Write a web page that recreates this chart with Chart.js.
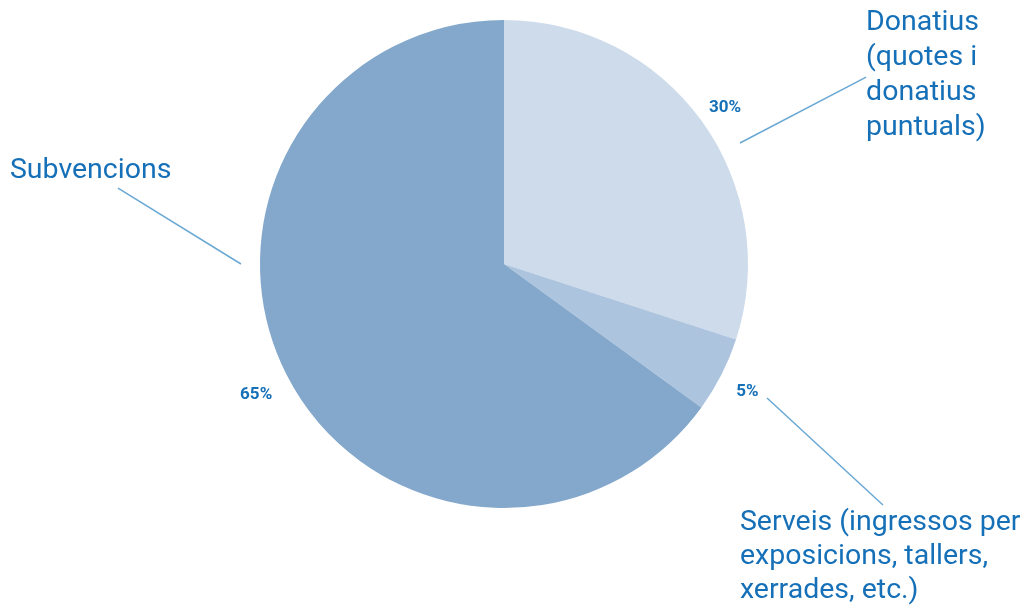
<!DOCTYPE html>
<html>
<head>
<meta charset="utf-8">
<script src="https://cdn.jsdelivr.net/npm/chart.js@4/dist/chart.umd.min.js"></script>
<style>
  html, body { margin: 0; padding: 0; background: #fff; }
  #wrap { width: 1029px; height: 605px; position: relative; }
</style>
</head>
<body>
<div id="wrap"><canvas id="pie"></canvas></div>
<script>
// Chart data
const categories = [
  ['Donatius', '(quotes i', 'donatius', 'puntuals)'],
  ['Serveis (ingressos per', 'exposicions, tallers,', 'xerrades, etc.)'],
  ['Subvencions']
];
const shares = [30, 5, 65];
const sliceColors = ['#cddbea', '#adc4df', '#84a8cc'];

// Label layout, in units of the pie radius, relative to the centre
const callouts = [
  { pct: 1.12, line: [[0.967, -0.496], [1.484, -0.766]], text: [1.484, -0.988], lh: 35 },
  { pct: 1.12, line: [[1.078, 0.549], [1.553, 0.988]], text: [0.967, 1.061], lh: 34 },
  { pct: 1.14, line: [[-1.078, 0], [-1.582, -0.311]], text: [-2.025, -0.381], lh: 34 }
];

const textBlue = '#1570b8';

// Draws percentages, leader lines and category names around the pie
const calloutPlugin = {
  id: 'callouts',
  afterDatasetsDraw(chart) {
    const ctx = chart.ctx;
    const arcs = chart.getDatasetMeta(0).data;
    arcs.forEach((arc, i) => {
      const c = callouts[i];
      const r = arc.outerRadius;
      const cx = arc.x, cy = arc.y;
      const mid = (arc.startAngle + arc.endAngle) / 2;
      ctx.save();
      // percentage
      ctx.fillStyle = textBlue;
      ctx.font = 'bold 17px Roboto';
      ctx.textAlign = 'center';
      ctx.textBaseline = 'middle';
      ctx.fillText(shares[i] + '%', cx + Math.cos(mid) * r * c.pct, cy + Math.sin(mid) * r * c.pct + 4);
      // leader line
      ctx.strokeStyle = '#6aa8d4';
      ctx.lineWidth = 1.5;
      ctx.beginPath();
      ctx.moveTo(cx + c.line[0][0] * r, cy + c.line[0][1] * r);
      ctx.lineTo(cx + c.line[1][0] * r, cy + c.line[1][1] * r);
      ctx.stroke();
      // category name
      ctx.font = '28.5px Roboto';
      ctx.textAlign = 'left';
      ctx.textBaseline = 'middle';
      categories[i].forEach((line, k) => {
        ctx.fillText(line, cx + c.text[0] * r, cy + c.text[1] * r + k * c.lh);
      });
      ctx.restore();
    });
  }
};

new Chart(document.getElementById('pie'), {
  type: 'pie',
  data: {
    labels: categories.map(l => l.join(' ')),
    datasets: [{
      data: shares,
      backgroundColor: sliceColors,
      borderWidth: 0
    }]
  },
  options: {
    responsive: true,
    maintainAspectRatio: false,
    animation: false,
    layout: { padding: { left: 260, right: 281, top: 20, bottom: 97 } },
    plugins: {
      legend: { display: false },
      tooltip: { enabled: false }
    }
  },
  plugins: [calloutPlugin]
});
</script>
</body>
</html>
